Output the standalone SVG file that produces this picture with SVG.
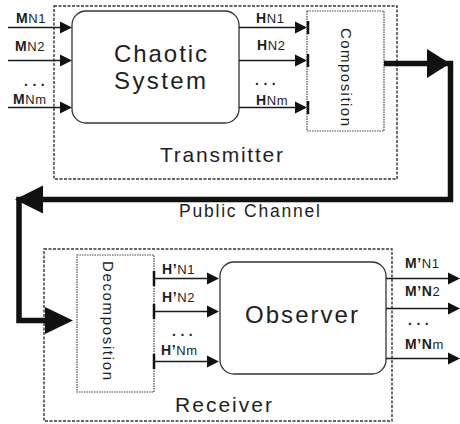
<svg xmlns="http://www.w3.org/2000/svg" width="460" height="424" viewBox="0 0 460 424">
<style>
text{font-family:"Liberation Sans",Arial,sans-serif;fill:#1e1e1e}
.big{font-size:24px}
.mid{font-size:21px}
.lab{font-size:13px;letter-spacing:0.6px}
.b{font-weight:bold;font-size:14px}
.dots{font-size:14px;font-weight:bold;letter-spacing:4.5px}
.dash{fill:none;stroke:#333;stroke-width:1.4;stroke-dasharray:3 1.5}
.dot{fill:none;stroke:#444;stroke-width:1.2;stroke-dasharray:1.5 1}
.box{fill:#fff;stroke:#333;stroke-width:1.3}
.ln{stroke:#1a1a1a;stroke-width:1.5;fill:none}
.thick{stroke:#111;stroke-width:5.5;fill:none}
.ah{fill:#111}
</style>
<defs>
<path id="sa" d="M-12,-6 L0,0 L-12,6 Z"/>
</defs>
<g id="transmitter">
<rect class="dash" x="54" y="6" width="343" height="173"/>
<text class="mid" x="160" y="162" textLength="123" lengthAdjust="spacing">Transmitter</text>
</g>
<g id="chaotic-system">
<rect class="box" x="72" y="11" width="167" height="112" rx="14"/>
<text class="big" x="114" y="62" textLength="93" lengthAdjust="spacing">Chaotic</text>
<text class="big" x="114" y="89" textLength="92" lengthAdjust="spacing">System</text>
</g>
<g id="composition">
<rect class="dot" x="307" y="11" width="77" height="120"/>
<text transform="translate(341,28) rotate(90)" font-size="15" textLength="98" lengthAdjust="spacing">Composition</text>
</g>
<g id="receiver">
<rect class="dash" x="44" y="249" width="348" height="172"/>
<text class="mid" x="175" y="412" textLength="97" lengthAdjust="spacing">Receiver</text>
</g>
<g id="decomposition">
<rect class="dot" x="77" y="255" width="77" height="137"/>
<text transform="translate(103,261) rotate(90)" font-size="15" textLength="119" lengthAdjust="spacing">Decomposition</text>
</g>
<g id="observer">
<rect class="box" x="220" y="262" width="166" height="112" rx="14"/>
<text class="big" x="245" y="323" textLength="113" lengthAdjust="spacing">Observer</text>
</g>
<g id="connectors">
<line class="ln" x1="8" y1="27.5" x2="62" y2="27.5"/>
<line class="ln" x1="8" y1="60.5" x2="62" y2="60.5"/>
<line class="ln" x1="8" y1="107.5" x2="62" y2="107.5"/>
<use href="#sa" class="ah" x="72" y="27.5"/>
<use href="#sa" class="ah" x="72" y="60.5"/>
<use href="#sa" class="ah" x="72" y="107.5"/>
<line class="ln" x1="239" y1="27.5" x2="298" y2="27.5"/>
<line class="ln" x1="239" y1="60.5" x2="298" y2="60.5"/>
<line class="ln" x1="239" y1="107.5" x2="298" y2="107.5"/>
<use href="#sa" class="ah" x="307" y="27.5"/>
<use href="#sa" class="ah" x="307" y="60.5"/>
<use href="#sa" class="ah" x="307" y="107.5"/>
<line stroke="#111" stroke-width="2.5" x1="308" y1="21" x2="308" y2="34"/>
<line stroke="#111" stroke-width="2.5" x1="308" y1="54" x2="308" y2="67"/>
<line stroke="#111" stroke-width="2.5" x1="308" y1="101" x2="308" y2="114"/>
<polyline class="thick" points="384,63.5 450.5,63.5 450.5,199.5 19,199.5 19,320.5 50,320.5"/>
<polygon class="ah" points="427,49 450,63.5 427,78"/>
<polygon class="ah" points="15,199.5 43,185.5 43,213.5"/>
<polygon class="ah" points="45,307 73,320.5 45,334"/>
<line class="ln" x1="154" y1="278.5" x2="208" y2="278.5"/>
<line class="ln" x1="154" y1="311.5" x2="208" y2="311.5"/>
<line class="ln" x1="154" y1="361.5" x2="208" y2="361.5"/>
<use href="#sa" class="ah" x="219" y="278.5"/>
<use href="#sa" class="ah" x="219" y="311.5"/>
<use href="#sa" class="ah" x="219" y="361.5"/>
<line stroke="#111" stroke-width="2.5" x1="154" y1="271" x2="154" y2="286"/>
<line stroke="#111" stroke-width="2.5" x1="154" y1="304" x2="154" y2="319"/>
<line stroke="#111" stroke-width="2.5" x1="154" y1="354" x2="154" y2="369"/>
<line class="ln" x1="386" y1="278.5" x2="450" y2="278.5"/>
<line class="ln" x1="386" y1="308.5" x2="450" y2="308.5"/>
<line class="ln" x1="386" y1="358.5" x2="450" y2="358.5"/>
<use href="#sa" class="ah" x="460" y="278.5"/>
<use href="#sa" class="ah" x="460" y="308.5"/>
<use href="#sa" class="ah" x="460" y="358.5"/>
</g>
<g id="labels">
<text class="lab" x="16" y="23"><tspan class="b">M</tspan>N1</text>
<text class="lab" x="15" y="51"><tspan class="b">M</tspan>N2</text>
<text class="dots" x="24" y="86">...</text>
<text class="lab" x="13" y="104"><tspan class="b">M</tspan>Nm</text>
<text class="lab" x="256" y="23"><tspan class="b">H</tspan>N1</text>
<text class="lab" x="257" y="50"><tspan class="b">H</tspan>N2</text>
<text class="dots" x="255" y="85">...</text>
<text class="lab" x="256" y="105"><tspan class="b">H</tspan>Nm</text>
<text font-size="17.5" x="179" y="217" textLength="141" lengthAdjust="spacing">Public Channel</text>
<text class="lab" x="162" y="274"><tspan class="b">H’</tspan>N1</text>
<text class="lab" x="162" y="302"><tspan class="b">H’</tspan>N2</text>
<text class="dots" x="172" y="336">...</text>
<text class="lab" x="161" y="355"><tspan class="b">H’</tspan>Nm</text>
<text class="lab" x="405" y="268"><tspan class="b">M’</tspan>N1</text>
<text class="lab" x="405" y="296"><tspan class="b">M’N</tspan>2</text>
<text class="dots" x="408" y="325">...</text>
<text class="lab" x="405" y="349"><tspan class="b">M’N</tspan>m</text>
</g>
</svg>
